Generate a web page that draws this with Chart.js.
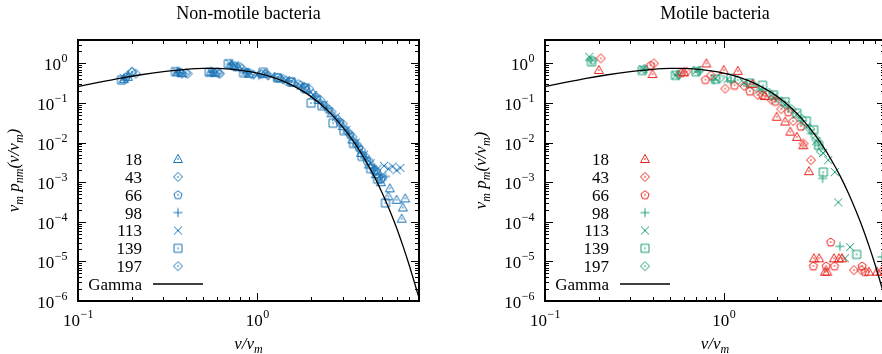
<!DOCTYPE html>
<html>
<head>
<meta charset="utf-8">
<script src="https://cdn.jsdelivr.net/npm/chart.js@4/dist/chart.umd.min.js"></script>
<style>
  html, body { margin: 0; padding: 0; background: #fff; }
  #wrap { position: relative; width: 882px; height: 354px; overflow: hidden; }
  #left { position: absolute; left: 0; top: 0; }
  #right { position: absolute; left: 441px; top: 0; }
</style>
</head>
<body>
<div id="wrap">
  <div id="left" style="width:441px;height:354px"><canvas id="c1"></canvas></div>
  <div id="right" style="width:450px;height:354px"><canvas id="c2"></canvas></div>
</div>
<script>
// legend labels (number of bacteria)
const seriesLabels = ['18', '43', '66', '98', '113', '139', '197'];
const xTickExps = [-1, 0];
const yTickExps = [-6, -5, -4, -3, -2, -1, 0];

// Gamma fit
const curveX = [0.1, 0.13, 0.17, 0.22, 0.3, 0.4, 0.5, 0.6, 0.7, 0.85, 1, 1.2, 1.4, 1.7, 2, 2.4, 2.8, 3.2, 3.6, 4, 4.5, 5, 5.5, 6, 6.5, 7, 7.5, 8];
const curveY = [0.26, 0.33, 0.42, 0.51, 0.62, 0.71, 0.745, 0.745, 0.72, 0.65, 0.57, 0.46, 0.355, 0.23, 0.145, 0.074, 0.036, 0.017, 0.008, 0.0037, 0.0014, 5.2e-4, 1.9e-4, 7e-5, 2.5e-5, 9e-6, 3.2e-6, 1.2e-6];

// non-motile bacteria, [v/vm, vm p(v/vm)]
const nm18 = [[0.18,0.40],[0.19,0.46],[0.36,0.62],[0.38,0.57],[0.55,0.62],[0.58,0.58],[0.72,0.92],[0.78,0.8],[0.9,0.55],[1.1,0.55],[1.35,0.42],[1.6,0.33],[1.9,0.22],[2.2,0.12],[2.6,0.055],[3.0,0.026],[3.4,0.012],[3.8,0.0055],[4.2,0.0028],[4.6,0.0016],[4.9,1.0e-3],[5.4,4.4e-4],[5.5,7e-4],[6.0,3.6e-4],[6.5,2.3e-4],[6.7,3.9e-4],[6.4,1.2e-4]];
const nm43 = [[0.19,0.5],[0.2,0.6],[0.38,0.55],[0.41,0.55],[0.6,0.6],[0.62,0.55],[0.76,0.85],[0.82,0.75],[0.95,0.52],[1.15,0.5],[1.45,0.37],[1.75,0.28],[2.05,0.17],[2.4,0.085],[2.8,0.04],[3.2,0.019],[3.6,0.009],[4.0,0.0045],[4.4,0.0025],[4.8,0.0014]];
const nm66 = [[0.185,0.45],[0.37,0.6],[0.57,0.6],[0.74,0.88],[0.88,0.6],[1.05,0.55],[1.3,0.45],[1.55,0.35],[1.85,0.25],[2.15,0.14],[2.5,0.07],[2.9,0.033],[3.3,0.016],[3.7,0.0075],[4.1,0.0035],[4.5,0.002],[4.9,0.0012]];
const nm98 = [[0.18,0.42],[0.36,0.58],[0.56,0.62],[0.71,0.95],[0.87,0.58],[1.02,0.5],[1.25,0.46],[1.5,0.36],[1.8,0.26],[2.1,0.15],[2.45,0.075],[2.85,0.036],[3.25,0.017],[3.65,0.008],[4.05,0.004],[4.45,0.0022],[4.85,0.0016],[5.2,0.0014]];
const nm113 = [[0.18,0.43],[0.355,0.62],[0.555,0.6],[0.7,1.0],[0.75,0.9],[0.86,0.62],[1.0,0.52],[1.2,0.48],[1.45,0.38],[1.75,0.27],[2.05,0.16],[2.35,0.09],[2.75,0.045],[3.15,0.021],[3.55,0.01],[3.95,0.005],[4.3,0.003],[4.7,0.0022],[5.1,0.0026],[5.4,0.0022],[5.7,0.0025],[6.0,0.002],[6.3,0.0023]];
const nm139 = [[0.175,0.38],[0.35,0.62],[0.54,0.6],[0.69,0.98],[0.84,0.58],[1.08,0.6],[1.3,0.43],[1.55,0.34],[1.85,0.24],[2.0,0.1],[2.3,0.085],[2.65,0.031],[3.05,0.02],[3.45,0.0095],[3.85,0.0045],[4.3,0.0022],[4.7,0.0012],[5.2,3e-4]];
const nm197 = [[0.2,0.62],[0.21,0.55],[0.4,0.57],[0.61,0.56],[0.8,0.82],[0.92,0.55],[1.12,0.55],[1.4,0.4],[1.7,0.3],[1.95,0.23],[2.25,0.12],[2.6,0.06],[3.0,0.03],[3.4,0.014],[3.8,0.0065],[4.2,0.0035],[4.6,0.002],[5.0,0.0013]];

// motile bacteria
const m18 = [[0.2,0.68],[0.4,0.54],[0.6,0.6],[0.8,1.0],[1.0,0.68],[1.2,0.65],[1.45,0.3],[1.7,0.15],[1.98,0.045],[2.21,0.034],[2.36,0.019],[2.57,0.014],[2.79,0.0086],[3.0,0.0019],[3.2,1.2e-5],[3.42,1.2e-5],[4.14,1.2e-5],[4.42,1.2e-5],[4.6,1.2e-5],[3.69,5.5e-6],[3.8,5.5e-6],[6.5,5.5e-6],[7.22,5.5e-6],[7.6,5.5e-6]];
const m43 = [[0.205,1.34],[0.407,1.0],[0.62,0.62],[0.85,0.5],[1.02,0.23],[1.3,0.27],[1.55,0.16],[1.85,0.12],[2.1,0.07],[2.45,0.035],[2.8,0.0095],[3.08,0.0036],[5.36,6e-6],[5.9,6e-6]];
const m66 = [[0.39,0.9],[0.58,0.58],[0.79,0.39],[1.15,0.28],[1.4,0.2],[1.65,0.16],[1.95,0.11],[2.3,0.06],[2.7,0.026],[3.18,7.7e-6],[3.75,7.7e-6],[4.17,7.7e-6],[3.97,3.1e-5],[5.96,7.7e-6],[6.2,5.5e-6]];
const m98 = [[0.18,1.2],[0.36,0.7],[0.55,0.52],[0.72,0.62],[0.88,0.38],[1.1,0.36],[1.35,0.3],[1.65,0.2],[1.95,0.13],[2.3,0.075],[2.7,0.035],[3.1,0.017],[3.4,0.0085],[3.58,1.25e-3],[4.47,2.4e-5],[7.7,1.3e-5]];
const m113 = [[0.177,1.47],[0.355,0.72],[0.54,0.5],[0.71,0.68],[0.9,0.42],[1.05,0.4],[1.3,0.32],[1.6,0.22],[1.9,0.14],[2.2,0.09],[2.55,0.05],[2.9,0.025],[3.3,0.011],[3.6,0.0055],[3.85,3.6e-3],[4.19,1.8e-3],[4.38,3.1e-4],[5.1,2.3e-5],[4.77,1.2e-5]];
const m139 = [[0.182,1.1],[0.35,0.66],[0.537,0.5],[0.7,0.62],[0.9,0.4],[1.1,0.42],[1.4,0.32],[1.65,0.28],[1.9,0.16],[2.21,0.107],[2.57,0.055],[2.9,0.035],[3.19,0.021],[3.4,0.0086],[3.61,1.8e-3],[5.55,1.5e-5]];
const m197 = [[0.185,1.2],[0.36,0.72],[0.56,0.52],[0.73,0.66],[0.95,0.42],[1.2,0.38],[1.5,0.26],[1.8,0.18],[2.1,0.11],[2.4,0.07],[2.75,0.04],[3.05,0.022],[3.3,0.012],[3.5,0.006]];

const BLUE = '#1a74b6', RED = '#e8231c', GREEN = '#1b9e77';
const shapes = ['tri', 'dia', 'pent', 'plus', 'cross', 'sq', 'dia'];
const SERIF = '"Liberation Serif", "DejaVu Serif", serif';

function marker(shape, color) {
  const s = 12, m = 6;
  const c = document.createElement('canvas');
  c.width = s; c.height = s;
  const g = c.getContext('2d');
  g.strokeStyle = color; g.fillStyle = color; g.lineWidth = 1;
  g.beginPath();
  if (shape === 'tri') {
    g.moveTo(m, m - 4.5); g.lineTo(m + 4.5, m + 3.5); g.lineTo(m - 4.5, m + 3.5); g.closePath();
  } else if (shape === 'dia') {
    g.moveTo(m, m - 4.5); g.lineTo(m + 4.5, m); g.lineTo(m, m + 4.5); g.lineTo(m - 4.5, m); g.closePath();
  } else if (shape === 'pent') {
    for (let i = 0; i < 5; i++) {
      const a = -Math.PI / 2 + i * 2 * Math.PI / 5;
      const px = m + 4.3 * Math.cos(a), py = m + 0.4 + 4.3 * Math.sin(a);
      if (i === 0) g.moveTo(px, py); else g.lineTo(px, py);
    }
    g.closePath();
  } else if (shape === 'plus') {
    g.moveTo(m - 4.5, m); g.lineTo(m + 4.5, m); g.moveTo(m, m - 4.5); g.lineTo(m, m + 4.5);
  } else if (shape === 'cross') {
    g.moveTo(m - 4, m - 4); g.lineTo(m + 4, m + 4); g.moveTo(m + 4, m - 4); g.lineTo(m - 4, m + 4);
  } else if (shape === 'sq') {
    g.rect(m - 4, m - 4, 8, 8);
  }
  g.stroke();
  if (shape !== 'plus' && shape !== 'cross') {
    g.fillRect(m - 0.7, m - 0.7, 1.4, 1.4);
  }
  return c;
}

function pts(arr) { return arr.map(p => ({ x: p[0], y: p[1] })); }

function drawPow(g, exp, x, y, align) {
  const base = '10', sup = String(exp).replace('-', '\u2212');
  g.font = '17px ' + SERIF;
  const w1 = g.measureText(base).width;
  g.font = '12px ' + SERIF;
  const w2 = g.measureText(sup).width;
  let start = align === 'right' ? x - w1 - w2 : x - (w1 + w2) / 2;
  g.textAlign = 'left';
  g.font = '17px ' + SERIF;
  g.fillText(base, start, y);
  g.font = '12px ' + SERIF;
  g.fillText(sup, start + w1 + 0.5, y - 8);
}

function drawPieces(g, pieces, x, y) {
  // pieces: [text, isSub]
  let total = 0;
  pieces.forEach(p => { g.font = (p[1] ? 'italic 12px ' : 'italic 17px ') + SERIF; total += g.measureText(p[0]).width; });
  let cx = x - total / 2;
  g.textAlign = 'left';
  pieces.forEach(p => {
    g.font = (p[1] ? 'italic 12px ' : 'italic 17px ') + SERIF;
    g.fillText(p[0], cx, y + (p[1] ? 4 : 0));
    cx += g.measureText(p[0]).width;
  });
}

function framePlugin(title, ylabelPieces, colors) {
  return {
    id: 'frame',
    afterDraw(chart) {
      const g = chart.ctx, a = chart.chartArea;
      const xs = chart.scales.x, ys = chart.scales.y;
      g.save();
      g.fillStyle = '#000'; g.strokeStyle = '#000';
      // ticks, inward on all four sides
      g.lineWidth = 1;
      g.beginPath();
      xTickExps.concat([1]).forEach(e => {
        for (let k = 1; k <= 9; k++) {
          const v = k * Math.pow(10, e);
          if (v < xs.min || v > xs.max) continue;
          const px = Math.round(xs.getPixelForValue(v)) + 0.5;
          const len = k === 1 ? 8 : 4;
          g.moveTo(px, a.bottom); g.lineTo(px, a.bottom - len);
          g.moveTo(px, a.top); g.lineTo(px, a.top + len);
        }
      });
      yTickExps.forEach(e => {
        for (let k = 1; k <= 9; k++) {
          const v = k * Math.pow(10, e);
          if (v < ys.min || v > ys.max) continue;
          const py = Math.round(ys.getPixelForValue(v)) + 0.5;
          const len = k === 1 ? 8 : 4;
          g.moveTo(a.left, py); g.lineTo(a.left + len, py);
          g.moveTo(a.right, py); g.lineTo(a.right - len, py);
        }
      });
      g.stroke();
      // frame
      g.lineWidth = 2;
      g.strokeRect(a.left, a.top, a.right - a.left, a.bottom - a.top);
      // tick labels
      xTickExps.forEach(e => drawPow(g, e, xs.getPixelForValue(Math.pow(10, e)), a.bottom + 25, 'center'));
      yTickExps.forEach(e => drawPow(g, e, a.left - 11, ys.getPixelForValue(Math.pow(10, e)) + 7, 'right'));
      // title
      g.font = '18px ' + SERIF; g.textAlign = 'center';
      g.fillText(title, (a.left + a.right) / 2, 19);
      // x label
      drawPieces(g, [['v/v', false], ['m', true]], (a.left + a.right) / 2, 349);
      // y label
      g.save();
      g.translate(a.left - 59, (a.top + a.bottom) / 2);
      g.rotate(-Math.PI / 2);
      drawPieces(g, ylabelPieces, 0, 0);
      g.restore();
      // legend
      const lx = a.left + 64, mx = a.left + 100;
      seriesLabels.forEach((lab, i) => {
        const by = 165 + i * 17.86;
        g.font = '17px ' + SERIF; g.textAlign = 'right';
        g.fillText(lab, lx, by);
        g.drawImage(marker(shapes[i], colors[i]), mx - 6, by - 12);
      });
      const gy = 165 + 7 * 17.86;
      g.font = '17px ' + SERIF; g.textAlign = 'right';
      g.fillText('Gamma', lx, gy);
      g.lineWidth = 1.3;
      g.beginPath(); g.moveTo(a.left + 75, gy - 6); g.lineTo(a.left + 125, gy - 6); g.stroke();
      g.restore();
    }
  };
}

function makeChart(id, series, colors, padding, title, ylabelPieces) {
  const curve = curveX.map((x, i) => ({ x: x, y: curveY[i] }));
  const datasets = [{
    label: 'Gamma', data: curve, showLine: true, borderColor: '#000', borderWidth: 1.3,
    pointRadius: 0, cubicInterpolationMode: 'monotone', fill: false
  }];
  series.forEach((s, i) => {
    datasets.push({
      label: seriesLabels[i], data: pts(s), showLine: false,
      pointStyle: marker(shapes[i], colors[i]), pointRadius: 5
    });
  });
  return new Chart(document.getElementById(id), {
    type: 'scatter',
    data: { datasets: datasets },
    options: {
      responsive: true, maintainAspectRatio: false, animation: false,
      layout: { padding: padding },
      plugins: { legend: { display: false }, tooltip: { enabled: false } },
      scales: {
        x: { type: 'logarithmic', min: 0.1, max: 8, display: false },
        y: { type: 'logarithmic', min: 1e-6, max: 3.9, display: false }
      }
    },
    plugins: [framePlugin(title, ylabelPieces, colors)]
  });
}

const leftColors = [BLUE, BLUE, BLUE, BLUE, BLUE, BLUE, BLUE];
const rightColors = [RED, RED, RED, GREEN, GREEN, GREEN, GREEN];

makeChart('c1', [nm18, nm43, nm66, nm98, nm113, nm139, nm197], leftColors,
  { left: 78, right: 22, top: 40, bottom: 53 }, 'Non-motile bacteria',
  [['v', false], ['m', true], [' p', false], ['nm', true], ['(v/v', false], ['m', true], [')', false]]);

makeChart('c2', [m18, m43, m66, m98, m113, m139, m197], rightColors,
  { left: 104, right: 5, top: 40, bottom: 53 }, 'Motile bacteria',
  [['v', false], ['m', true], [' p', false], ['m', true], ['(v/v', false], ['m', true], [')', false]]);
</script>
</body>
</html>
